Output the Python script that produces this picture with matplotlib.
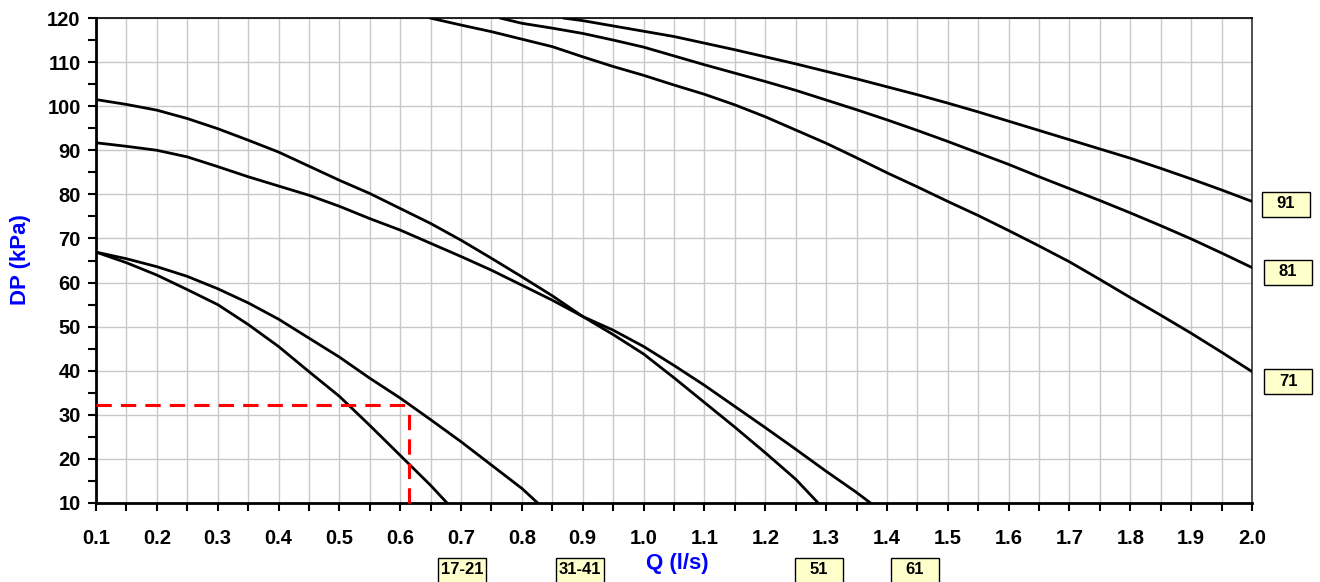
import matplotlib
matplotlib.use("Agg")
import matplotlib.pyplot as plt
from matplotlib.patches import Rectangle
from matplotlib.ticker import MultipleLocator, FormatStrFormatter

plt.rcParams['font.family'] = ['Liberation Sans', 'DejaVu Sans']

# ---- data ----
q_1721 = [0.1, 0.15, 0.2, 0.25, 0.3, 0.35, 0.4, 0.45, 0.5, 0.55, 0.6, 0.65, 0.677]
dp_1721 = [66.9, 64.5, 61.7, 58.4, 55.0, 50.5, 45.5, 39.8, 34.2, 27.6, 20.8, 14.0, 10.0]

q_3141 = [0.1, 0.15, 0.2, 0.25, 0.3, 0.35, 0.4, 0.45, 0.5, 0.55, 0.6, 0.65, 0.7, 0.75, 0.8, 0.826]
dp_3141 = [66.9, 65.4, 63.6, 61.4, 58.6, 55.4, 51.7, 47.4, 43.1, 38.3, 33.8, 28.9, 23.9, 18.6, 13.3, 10.0]

q_51 = [0.1, 0.15, 0.2, 0.25, 0.3, 0.35, 0.4, 0.45, 0.5, 0.55, 0.6, 0.65, 0.7,
        0.75, 0.8, 0.85, 0.9, 0.95, 1.0, 1.05, 1.1, 1.15, 1.2, 1.25, 1.287]
dp_51 = [101.5, 100.4, 99.1, 97.2, 94.9, 92.3, 89.6, 86.4, 83.2, 80.2, 76.8, 73.4, 69.6,
         65.5, 61.3, 57.0, 52.3, 48.2, 43.8, 38.4, 32.8, 27.2, 21.4, 15.4, 10.0]

q_61 = [0.1, 0.15, 0.2, 0.25, 0.3, 0.35, 0.4, 0.45, 0.5, 0.55, 0.6, 0.65, 0.7,
        0.75, 0.8, 0.85, 0.9, 0.95, 1.0, 1.05, 1.1, 1.15, 1.2, 1.25, 1.3, 1.35, 1.373]
dp_61 = [91.7, 90.9, 90.0, 88.5, 86.3, 84.0, 81.9, 79.8, 77.3, 74.5, 71.9, 68.9, 65.9,
         62.8, 59.4, 56.0, 52.3, 49.2, 45.5, 41.2, 36.7, 31.9, 27.1, 22.2, 17.2, 12.4, 10.0]

q_71 = [0.649, 0.7, 0.75, 0.8, 0.85, 0.9, 0.95, 1.0, 1.05, 1.1, 1.15, 1.2, 1.25, 1.3,
        1.35, 1.4, 1.45, 1.5, 1.55, 1.6, 1.65, 1.7, 1.75, 1.8, 1.85, 1.9, 1.95, 2.0]
dp_71 = [120.0, 118.4, 116.9, 115.2, 113.5, 111.2, 109.0, 107.0, 104.8, 102.7, 100.3, 97.6, 94.6, 91.6,
         88.3, 84.9, 81.7, 78.4, 75.2, 71.8, 68.3, 64.7, 60.7, 56.6, 52.6, 48.5, 44.2, 39.8]

q_81 = [0.764, 0.8, 0.85, 0.9, 0.95, 1.0, 1.05, 1.1, 1.15, 1.2, 1.25, 1.3, 1.35, 1.4,
        1.45, 1.5, 1.55, 1.6, 1.65, 1.7, 1.75, 1.8, 1.85, 1.9, 1.95, 2.0]
dp_81 = [120.0, 118.8, 117.7, 116.5, 115.0, 113.4, 111.4, 109.4, 107.5, 105.6, 103.6, 101.4, 99.2, 96.9,
         94.5, 92.0, 89.4, 86.8, 84.0, 81.3, 78.6, 75.8, 72.9, 69.9, 66.7, 63.4]

q_91 = [0.868, 0.9, 0.95, 1.0, 1.05, 1.1, 1.15, 1.2, 1.25, 1.3, 1.35, 1.4, 1.45, 1.5,
        1.55, 1.6, 1.65, 1.7, 1.75, 1.8, 1.85, 1.9, 1.95, 2.0]
dp_91 = [120.0, 119.4, 118.2, 117.0, 115.8, 114.3, 112.8, 111.2, 109.6, 107.9, 106.2, 104.4, 102.6, 100.7,
         98.7, 96.6, 94.5, 92.4, 90.3, 88.2, 85.9, 83.5, 81.0, 78.4]

# operating point (red dashed)
op_q = 0.614
op_dp = 32.3

x_ticks = [0.1, 0.2, 0.3, 0.4, 0.5, 0.6, 0.7, 0.8, 0.9, 1.0, 1.1, 1.2, 1.3, 1.4, 1.5, 1.6, 1.7, 1.8, 1.9, 2.0]
y_ticks = [10, 20, 30, 40, 50, 60, 70, 80, 90, 100, 110, 120]

curve_labels = ["17-21", "31-41", "51", "61", "71", "81", "91"]

# ---- figure ----
W, H = 1320, 582
fig = plt.figure(figsize=(W / 100, H / 100), dpi=100)
ax = fig.add_axes([96 / W, 1 - 503 / H, (1252 - 96) / W, (503 - 18) / H])

ax.set_xlim(x_ticks[0], x_ticks[-1])
ax.set_ylim(y_ticks[0], y_ticks[-1])
ax.set_xticks(x_ticks)
ax.set_yticks(y_ticks)
ax.xaxis.set_major_formatter(FormatStrFormatter('%.1f'))
ax.xaxis.set_minor_locator(MultipleLocator(0.05))
ax.yaxis.set_minor_locator(MultipleLocator(5))

ax.grid(which='major', axis='both', color='#c8c8c8', linewidth=1.0)
ax.grid(which='minor', axis='x', color='#c8c8c8', linewidth=1.0)
ax.set_axisbelow(True)

ax.tick_params(which='both', direction='out', color='black', width=1.5, length=6)
ax.tick_params(axis='x', which='major', pad=13, labelsize=14.5)
ax.tick_params(axis='y', which='major', pad=5, labelsize=14.5)
for lab in ax.get_xticklabels() + ax.get_yticklabels():
    lab.set_fontweight('bold')

ax.spines['left'].set_linewidth(2.0)
ax.spines['bottom'].set_linewidth(2.0)
ax.spines['top'].set_linewidth(1.2)
ax.spines['right'].set_linewidth(1.2)
ax.spines['right'].set_color('#333333')

series = [(q_1721, dp_1721), (q_3141, dp_3141), (q_51, dp_51), (q_61, dp_61),
          (q_71, dp_71), (q_81, dp_81), (q_91, dp_91)]
for q, dp in series:
    ax.plot(q, dp, color='black', linewidth=2.0, solid_capstyle='round',
            solid_joinstyle='round', zorder=3)

ax.plot([x_ticks[0], op_q], [op_dp, op_dp], color='#ff0000', linewidth=2.2,
        dashes=(5, 3), zorder=4, clip_on=False)
ax.plot([op_q, op_q], [y_ticks[0], op_dp], color='#ff0000', linewidth=2.2,
        dashes=(5, 3), zorder=4, clip_on=False)

ax.set_xlabel("Q (l/s)", color='#0000ff', fontsize=16, fontweight='bold')
ax.xaxis.set_label_coords((677 - 96) / (1252 - 96), -(563 - 503) / (503 - 18))
ax.xaxis.label.set_va('center')
ax.set_ylabel("DP (kPa)", color='#0000ff', fontsize=16, fontweight='bold')
ax.yaxis.set_label_coords(-(96 - 21) / (1252 - 96), (503 - 260) / (503 - 18))
ax.yaxis.label.set_va('center')

# label boxes (figure pixel centres)
box_centres = [(462, 570), (580, 570), (819, 570), (915, 570),
               (1288, 381), (1288, 272), (1286, 204)]
bw, bh = 48, 25
for text, (cx, cy) in zip(curve_labels, box_centres):
    rect = Rectangle(((cx - bw / 2) / W, 1 - (cy + bh / 2) / H), bw / W, bh / H,
                     transform=fig.transFigure, facecolor='#ffffcc',
                     edgecolor='black', linewidth=1.0)
    fig.patches.append(rect)
    fig.text(cx / W, 1 - cy / H, text, ha='center', va='center',
             fontsize=12, fontweight='bold', color='black')

fig.savefig("out.png", dpi=100)
